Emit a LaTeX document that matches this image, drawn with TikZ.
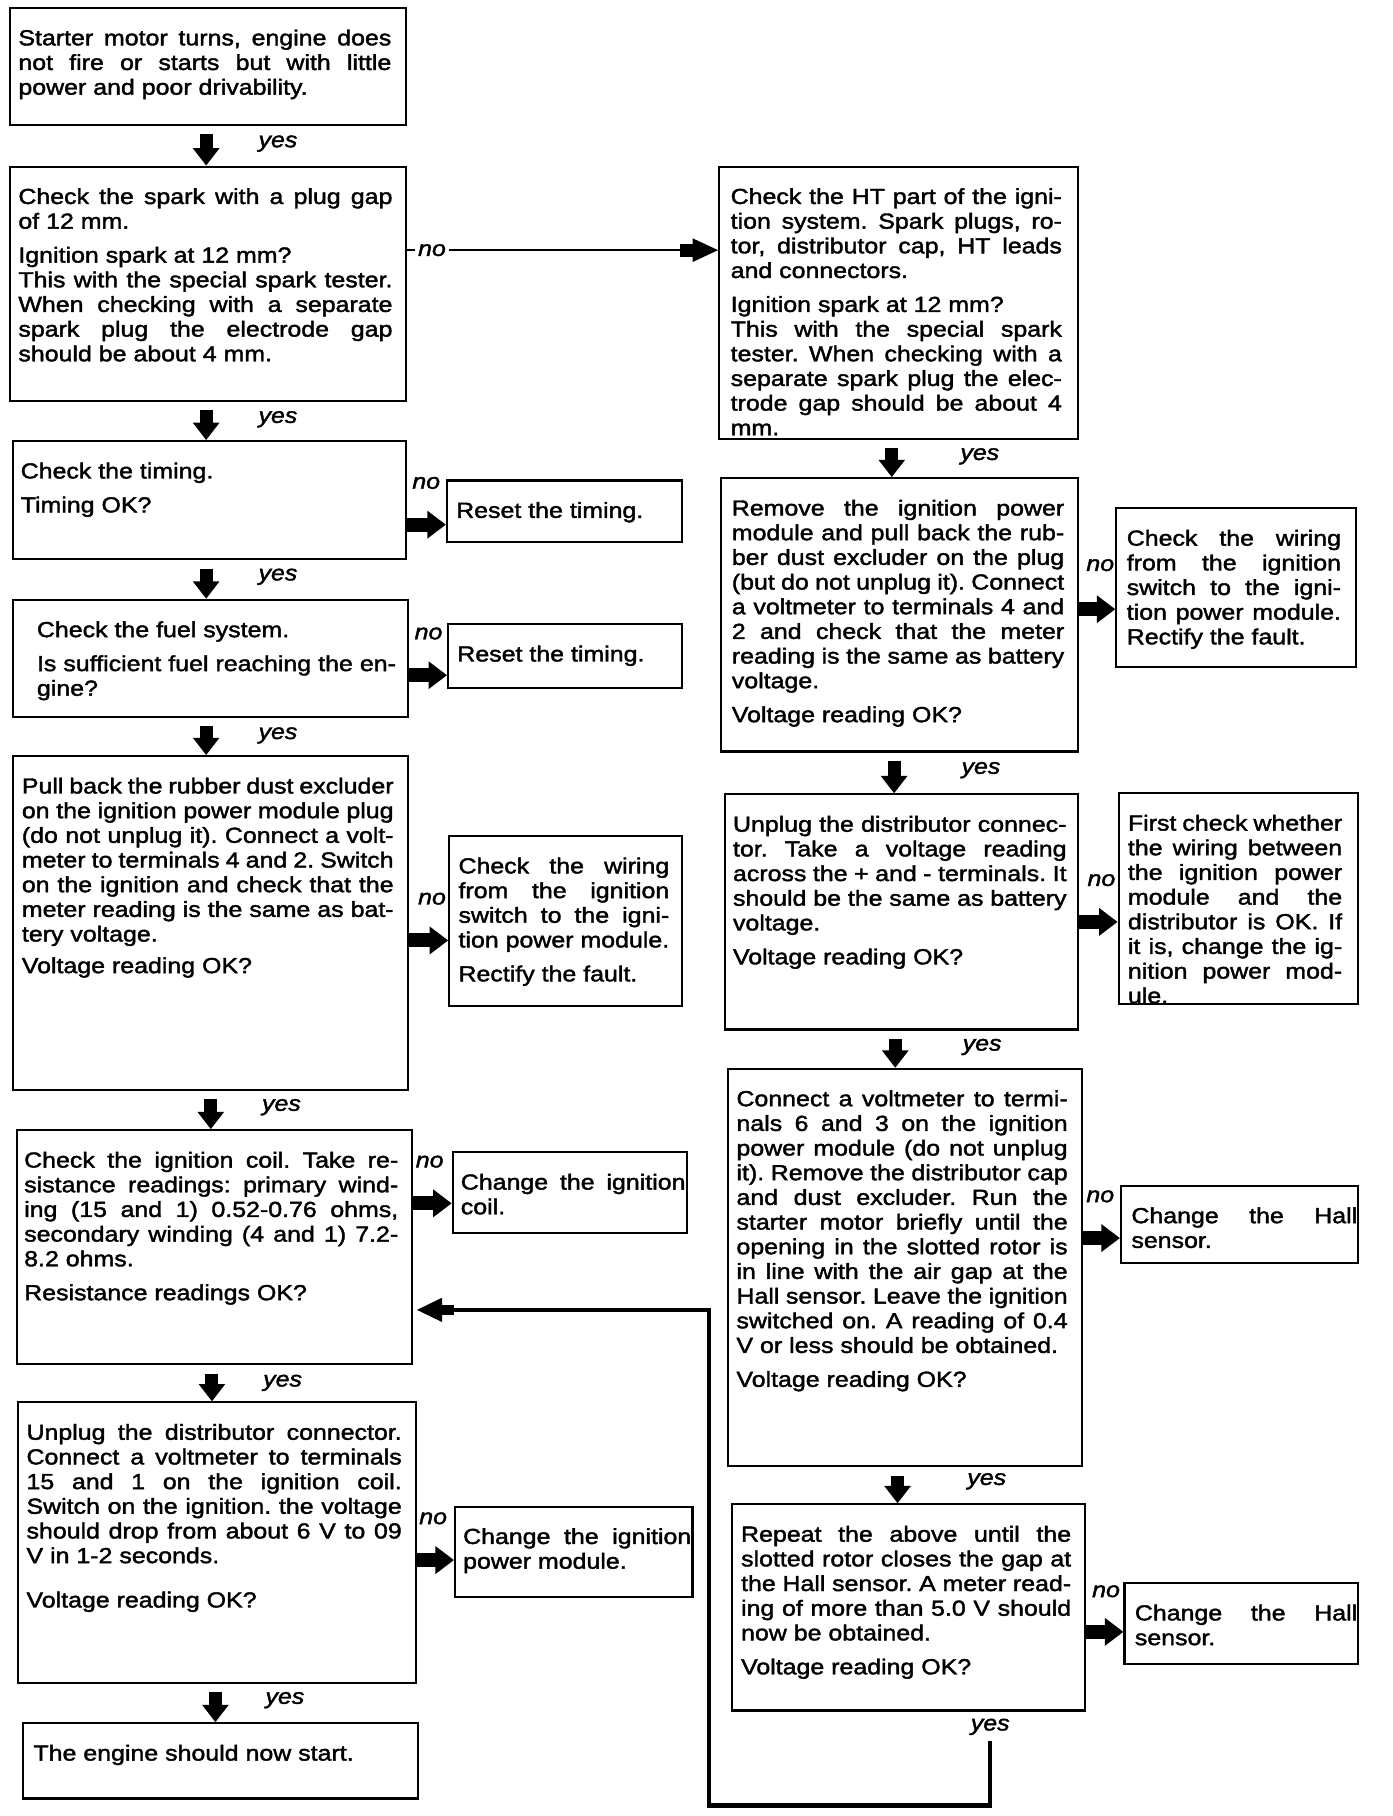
\documentclass[tikz,border=0pt]{standalone}
\usepackage{fontspec}
\setmainfont{Liberation Sans}[FakeStretch=1.145,FakeBold=1.8]
\usetikzlibrary{arrows.meta}
\newcommand\bodyfont{\fontsize{9.4pt}{10.65pt}\selectfont\frenchspacing\spaceskip=3pt plus 3pt minus 1.3pt\relax}
\newcommand\toppad{9.3pt}
\newcommand\J[1]{\hbox to\linewidth{#1}}
\newcommand\K[1]{\hbox to\linewidth{#1\hfil}}
\newcommand\G{\vspace{4pt}}
% name x1 y1 x2 y2 lpad rpad content (units: px of 0.5pt)
\newcommand\bx[8]{%
  \node[box] (#1) at (#2,#3) {\hspace*{\dimexpr#6pt/2\relax}\parbox[c][\dimexpr(#5pt-#3pt)/2\relax][t]{\dimexpr(#4pt-#2pt-#6pt-#7pt)/2\relax}{\vspace*{\toppad}#8}\hspace*{\dimexpr#7pt/2\relax}};}
\tikzset{
  box/.style={draw, line width=0.9pt, anchor=north west, inner sep=0pt, font=\bodyfont},
  lbl/.style={font=\bodyfont\itshape, inner sep=0pt},
  yesarr/.style={line width=5.6pt, shorten <=3.6pt, -{Triangle[length=7.5pt,width=11pt]}},
  noarr/.style={line width=6pt, -{Triangle[length=8pt,width=11.5pt]}},
  thinarr/.style={line width=1pt, -{Rectangle[length=5.5pt,width=5.5pt]Triangle[length=11pt,width=10pt]}},
  looparr/.style={line width=1.9pt, shorten >=1.5pt, -{Rectangle[length=5pt,width=4.5pt]Triangle[length=11pt,width=10pt]}},
}
\begin{document}
\begin{tikzpicture}[x=0.5pt,y=-0.5pt]
\fill[white] (0,0) rectangle (1202,1568);
\useasboundingbox (0,0) rectangle (1202,1568);

% ---------- left column ----------
\bx{B1}{8}{6}{350}{107}{7}{13}{\J{Starter motor turns, engine does}\J{not fire or starts but with little}\K{power and poor drivability.}}
\bx{L2}{8}{143}{350}{345}{7}{12}{\J{Check the spark with a plug gap}\K{of 12 mm.}\G\K{Ignition spark at 12 mm?}\J{This with the special spark tester.}\J{When checking with a separate}\J{spark plug the electrode gap}\K{should be about 4 mm.}}
\bx{L3}{10}{380}{350}{482}{7}{12}{\K{Check the timing.}\G\K{Timing OK?}}
\bx{L3n}{385}{414}{588}{467}{8}{10}{\K{Reset the timing.}}
\bx{L4}{10}{517}{351}{618}{21}{10}{\K{Check the fuel system.}\G\J{Is sufficient fuel reaching the en-}\K{gine?}}
\bx{L4n}{386}{538}{588}{593}{8}{10}{\K{Reset the timing.}}
\bx{L5}{10}{652}{351}{940}{8}{12}{\J{Pull back the rubber dust excluder}\J{on the ignition power module plug}\J{(do not unplug it). Connect a volt-}\J{meter to terminals 4 and 2. Switch}\J{on the ignition and check that the}\J{meter reading is the same as bat-}\K{tery voltage.}\vspace{3pt}\K{Voltage reading OK?}}
\bx{L5n}{387}{721}{588}{868}{8}{11}{\J{Check the wiring}\J{from the ignition}\J{switch to the igni-}\K{tion power module.}\G\K{Rectify the fault.}}
\bx{L6}{14}{975}{355}{1177}{6}{12}{\J{Check the ignition coil. Take re-}\J{sistance readings: primary wind-}\J{ing (15 and 1) 0.52-0.76 ohms,}\J{secondary winding (4 and 1) 7.2-}\K{8.2 ohms.}\G\K{Resistance readings OK?}}
\bx{L6n}{390}{994}{592}{1064}{7}{1}{\J{Change the ignition}\K{coil.}}
\bx{L7}{15}{1210}{358}{1452}{7}{12}{\J{Unplug the distributor connector.}\J{Connect a voltmeter to terminals}\J{15 and 1 on the ignition coil.}\J{Switch on the ignition. the voltage}\J{should drop from about 6 V to 09}\K{V in 1-2 seconds.}\vspace{8.5pt}\K{Voltage reading OK?}}
\bx{L7n}{392}{1300}{597}{1378}{7}{1}{\J{Change the ignition}\K{power module.}}
\bx{L8}{19}{1487}{360}{1552}{9}{12}{\K{The engine should now start.}}

% ---------- right column ----------
\bx{R1}{620}{143}{930}{378}{10}{14}{\J{Check the HT part of the igni-}\J{tion system. Spark plugs, ro-}\J{tor, distributor cap, HT leads}\K{and connectors.}\G\K{Ignition spark at 12 mm?}\J{This with the special spark}\J{tester. When checking with a}\J{separate spark plug the elec-}\J{trode gap should be about 4}\K{mm.}}
\bx{R2}{622}{412}{930}{648}{9}{12}{\J{Remove the ignition power}\J{module and pull back the rub-}\J{ber dust excluder on the plug}\J{(but do not unplug it). Connect}\J{a voltmeter to terminals 4 and}\J{2 and check that the meter}\J{reading is the same as battery}\K{voltage.}\G\K{Voltage reading OK?}}
\bx{R2n}{963}{438}{1170}{575}{9}{13}{\J{Check the wiring}\J{from the ignition}\J{switch to the igni-}\J{tion power module.}\K{Rectify the fault.}}
\bx{R3}{625}{685}{930}{888}{7}{10}{\J{Unplug the distributor connec-}\J{tor. Take a voltage reading}\J{across the + and - terminals. It}\J{should be the same as battery}\K{voltage.}\G\K{Voltage reading OK?}}
\bx{R3n}{965}{684}{1172}{866}{8}{14}{\J{First check whether}\J{the wiring between}\J{the ignition power}\J{module and the}\J{distributor is OK. If}\J{it is, change the ig-}\J{nition power mod-}\K{ule.}}
\bx{R4}{628}{922}{933}{1265}{7}{12}{\J{Connect a voltmeter to termi-}\J{nals 6 and 3 on the ignition}\J{power module (do not unplug}\J{it). Remove the distributor cap}\J{and dust excluder. Run the}\J{starter motor briefly until the}\J{opening in the slotted rotor is}\J{in line with the air gap at the}\J{Hall sensor. Leave the ignition}\J{switched on. A reading of 0.4}\K{V or less should be obtained.}\G\K{Voltage reading OK?}}
\bx{R4n}{967}{1023}{1172}{1090}{9}{1}{\J{Change the Hall}\K{sensor.}}
\bx{R5}{631}{1298}{936}{1476}{8}{12}{\J{Repeat the above until the}\J{slotted rotor closes the gap at}\J{the Hall sensor. A meter read-}\J{ing of more than 5.0 V should}\K{now be obtained.}\G\K{Voltage reading OK?}}
\bx{R5n}{970}{1366}{1172}{1436}{9}{1}{\J{Change the Hall}\K{sensor.}}

% ---------- yes arrows ----------
\draw[yesarr] (B1.south -| 178,0) -- (L2.north -| 178,0);
\draw[yesarr] (L2.south -| 178,0) -- (L3.north -| 178,0);
\draw[yesarr] (L3.south -| 178,0) -- (L4.north -| 178,0);
\draw[yesarr] (L4.south -| 178,0) -- (L5.north -| 178,0);
\draw[yesarr] (L5.south -| 182,0) -- (L6.north -| 182,0);
\draw[yesarr] (L6.south -| 183,0) -- (L7.north -| 183,0);
\draw[yesarr] (L7.south -| 186,0) -- (L8.north -| 186,0);
\draw[yesarr] (R1.south -| 770,0) -- (R2.north -| 770,0);
\draw[yesarr] (R2.south -| 772,0) -- (R3.north -| 772,0);
\draw[yesarr] (R3.south -| 773,0) -- (R4.north -| 773,0);
\draw[yesarr] (R4.south -| 775,0) -- (R5.north -| 775,0);

\node[lbl] (y1) at (240,124) {yes};
\node[lbl] (y2) at (240,362) {yes};
\node[lbl] (y3) at (240,498) {yes};
\node[lbl] (y4) at (240,635) {yes};
\node[lbl] (y5) at (243,956) {yes};
\node[lbl] (y6) at (244,1194) {yes};
\node[lbl] (y7) at (246,1468) {yes};
\node[lbl] (y8) at (846,394) {yes};
\node[lbl] (y9) at (847,665) {yes};
\node[lbl] (y10) at (848,904) {yes};
\node[lbl] (y11) at (852,1279) {yes};
\node[lbl] (y12) at (855,1491) {yes};

% ---------- no arrows ----------
\draw[noarr] (L3.east |- 0,453) -- (L3n.west |- 0,453);
\draw[noarr] (L4.east |- 0,583) -- (L4n.west |- 0,583);
\draw[noarr] (L5.east |- 0,812) -- (L5n.west |- 0,812);
\draw[noarr] (L6.east |- 0,1039) -- (L6n.west |- 0,1039);
\draw[noarr] (L7.east |- 0,1347) -- (L7n.west |- 0,1347);
\draw[noarr] (R2.east |- 0,526) -- (R2n.west |- 0,526);
\draw[noarr] (R3.east |- 0,796) -- (R3n.west |- 0,796);
\draw[noarr] (R4.east |- 0,1069) -- (R4n.west |- 0,1069);
\draw[noarr] (R5.east |- 0,1409) -- (R5n.west |- 0,1409);

\node[lbl] (n1) at (368,417) {no};
\node[lbl] (n2) at (370,547) {no};
\node[lbl] (n3) at (373,776) {no};
\node[lbl] (n4) at (371,1003) {no};
\node[lbl] (n5) at (374,1311) {no};
\node[lbl] (n6) at (950,488) {no};
\node[lbl] (n7) at (951,760) {no};
\node[lbl] (n8) at (950,1033) {no};
\node[lbl] (n9) at (955,1374) {no};

% long no arrow to the right column
\draw[thinarr] (L2.east |- 0,216) -- (R1.west |- 0,216);
\node[lbl, fill=white, inner xsep=1.5pt, inner ysep=1pt] (n0) at (373,216) {no};

% loop back to the ignition coil check
\coordinate (lp) at (855,1503);
\draw[looparr] (lp) |- (612,1559) |- (L6.east |- 0,1131);
\end{tikzpicture}
\end{document}
